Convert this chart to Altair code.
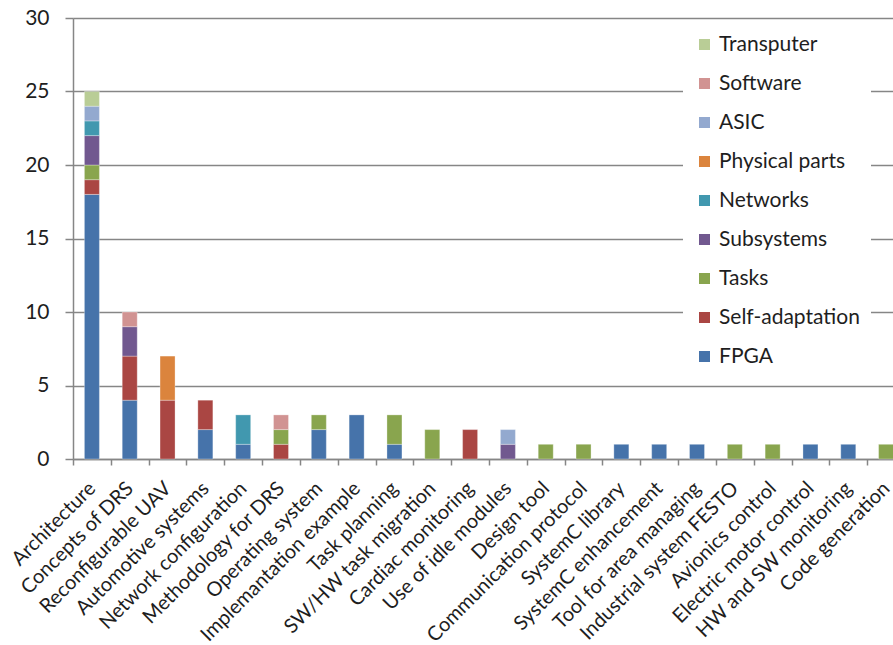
import altair as alt
import pandas as pd

# Application categories along the x axis
categories = [
    "Architecture", "Concepts of DRS", "Reconfigurable UAV", "Automotive systems",
    "Network configuration", "Methodology for DRS", "Operating system",
    "Implemantation example", "Task planning", "SW/HW task migration",
    "Cardiac monitoring", "Use of idle modules", "Design tool",
    "Communication protocol", "SystemC library", "SystemC enhancement",
    "Tool for area managing", "Industrial system FESTO", "Avionics control",
    "Electric motor control", "HW and SW monitoring", "Code generation",
]

# Stacked series, bottom to top
series = ["FPGA", "Self-adaptation", "Tasks", "Subsystems", "Networks",
          "Physical parts", "ASIC", "Software", "Transputer"]
colors = ["#4673AA", "#AA4643", "#89A54E", "#71588F", "#4198AF",
          "#DB843D", "#93A9CF", "#D19392", "#B9CD96"]

fpga            = [18, 4, 0, 2, 1, 0, 2, 3, 1, 0, 0, 0, 0, 0, 1, 1, 1, 0, 0, 1, 1, 0]
self_adaptation = [1, 3, 4, 2, 0, 1, 0, 0, 0, 0, 2, 0, 0, 0, 0, 0, 0, 0, 0, 0, 0, 0]
tasks           = [1, 0, 0, 0, 0, 1, 1, 0, 2, 2, 0, 0, 1, 1, 0, 0, 0, 1, 1, 0, 0, 1]
subsystems      = [2, 2, 0, 0, 0, 0, 0, 0, 0, 0, 0, 1, 0, 0, 0, 0, 0, 0, 0, 0, 0, 0]
networks        = [1, 0, 0, 0, 2, 0, 0, 0, 0, 0, 0, 0, 0, 0, 0, 0, 0, 0, 0, 0, 0, 0]
physical_parts  = [0, 0, 3, 0, 0, 0, 0, 0, 0, 0, 0, 0, 0, 0, 0, 0, 0, 0, 0, 0, 0, 0]
asic            = [1, 0, 0, 0, 0, 0, 0, 0, 0, 0, 0, 1, 0, 0, 0, 0, 0, 0, 0, 0, 0, 0]
software        = [0, 1, 0, 0, 0, 1, 0, 0, 0, 0, 0, 0, 0, 0, 0, 0, 0, 0, 0, 0, 0, 0]
transputer      = [1, 0, 0, 0, 0, 0, 0, 0, 0, 0, 0, 0, 0, 0, 0, 0, 0, 0, 0, 0, 0, 0]

values = [fpga, self_adaptation, tasks, subsystems, networks,
          physical_parts, asic, software, transputer]

rows = []
for s_idx, (name, vals) in enumerate(zip(series, values)):
    for cat, v in zip(categories, vals):
        if v > 0:
            rows.append({"category": cat, "series": name, "count": v, "stack": s_idx})
df = pd.DataFrame(rows)

FONT = "Lato"
GRAY = "#868686"
TEXT = "#1e1e1e"

bars = alt.Chart(df).mark_bar(size=15, stroke="white", strokeWidth=0.5, strokeOpacity=0.6).encode(
    x=alt.X("category:N", sort=categories, title=None,
            # the category band runs a little past the right edge of the page
            scale=alt.Scale(paddingInner=0, paddingOuter=0, range=[0, 832]),
            axis=alt.Axis(labelAngle=-45, labelAlign="right", labelBaseline="middle",
                          labelFontSize=20, labelFont=FONT, labelColor=TEXT,
                          labelPadding=20, tickBand="extent", tickSize=6,
                          tickColor=GRAY, tickWidth=1.5, domainColor=GRAY,
                          domainWidth=1.5, labelLimit=300)),
    y=alt.Y("count:Q", stack="zero", title=None,
            scale=alt.Scale(domain=[0, 30]),
            axis=alt.Axis(values=[0, 5, 10, 15, 20, 25, 30], tickSize=8,
                          tickColor=GRAY, tickWidth=1.5, domainColor=GRAY,
                          domainWidth=1.5, grid=True, gridColor=GRAY,
                          gridWidth=1.5, labelFontSize=21, labelFont=FONT,
                          labelColor=TEXT, labelPadding=16)),
    color=alt.Color("series:N", sort=series,
                    scale=alt.Scale(domain=series, range=colors),
                    legend=alt.Legend(title=None, orient="none",
                                      legendX=610, legendY=5,
                                      direction="vertical",
                                      values=series[::-1],
                                      symbolType="square", symbolSize=121,
                                      symbolStrokeWidth=0, symbolOpacity=1,
                                      labelFontSize=21, labelFont=FONT,
                                      labelColor=TEXT, rowPadding=17,
                                      labelOffset=4, fillColor="white",
                                      padding=11, offset=0)),
    order=alt.Order("stack:Q", sort="ascending"),
)

chart = bars.properties(
    width=820, height=441,
    padding={"left": 73, "top": 18, "right": 0, "bottom": 186},
    autosize="none",
).configure_view(stroke=None).configure(background="white")

chart.save("out.html", embed_options={"renderer": "svg", "actions": False})
